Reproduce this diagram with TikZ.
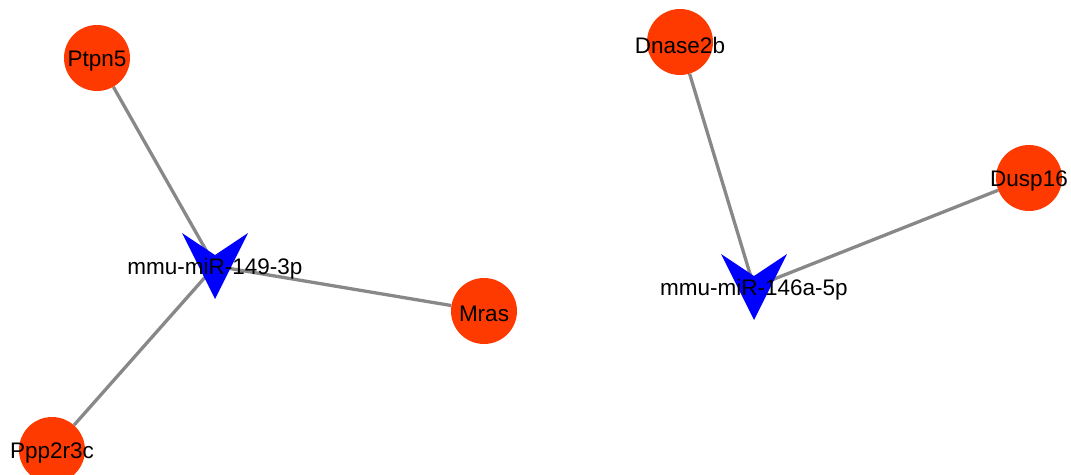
\documentclass[tikz,border=0pt]{standalone}
\usepackage{fontspec}
\setmainfont{Liberation Sans}
\usetikzlibrary{calc,backgrounds}
\definecolor{genered}{HTML}{FF3A00}
\definecolor{mirblue}{HTML}{0000FF}
\definecolor{edgegray}{HTML}{888888}
\tikzset{
  gene/.style={circle, fill=genered, draw=none, minimum size=66pt, inner sep=0pt},
  genetext/.style={font=\fontsize{22.5}{22.5}\selectfont, inner sep=0pt, yshift=-3pt},
  mirlabel/.style={font=\fontsize{22.5}{22.5}\selectfont, inner sep=0pt, yshift=-2.5pt},
  link/.style={draw=edgegray, line width=3.3pt},
  vee/.style={fill=mirblue, draw=none}
}
\newcommand{\veeshape}[1]{%
  \fill[vee] ($(#1)+(-33,-33)$) -- ($(#1)+(0,-11)$) -- ($(#1)+(33,-33)$) -- ($(#1)+(0,33)$) -- cycle;}
\begin{document}
\begin{tikzpicture}[x=1pt,y=-1pt]
\useasboundingbox (0,0) rectangle (1071,474);
\coordinate (m1) at (215,266);
\coordinate (m2) at (754,287);
\node[gene, label={[genetext]center:Ptpn5}] (ptpn5) at (97,58) {};
\node[gene, label={[genetext]center:Mras}] (mras) at (484,311) {};
\node[gene, label={[genetext]center:Ppp2r3c}] (ppp) at (52,450) {};
\node[gene, label={[genetext]center:Dnase2b}] (dnase) at (680,42) {};
\node[gene, label={[genetext]center:Dusp16}] (dusp) at (1029,178) {};
\veeshape{m1}
\veeshape{m2}
\node[mirlabel] (l1) at (m1) {mmu-miR-149-3p};
\node[mirlabel] (l2) at (m2) {mmu-miR-146a-5p};
\begin{pgfonlayer}{background}
\draw[link] (ptpn5) -- (m1);
\draw[link] (mras) -- (m1);
\draw[link] (ppp) -- (m1);
\draw[link] (dnase) -- (m2);
\draw[link] (dusp) -- (m2);
\end{pgfonlayer}
\end{tikzpicture}
\end{document}
